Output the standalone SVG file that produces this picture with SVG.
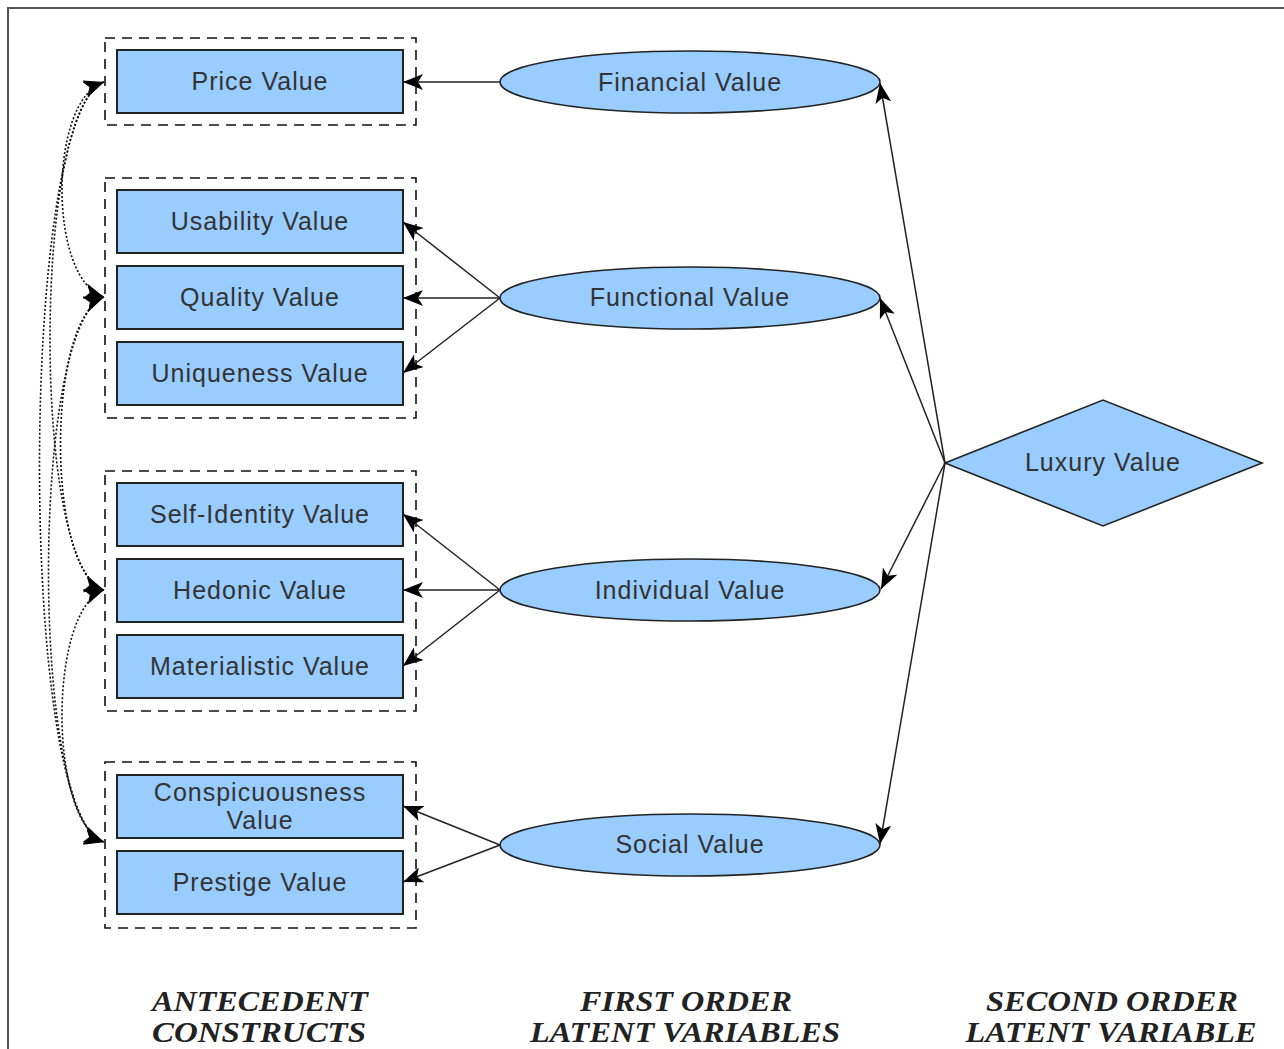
<svg xmlns="http://www.w3.org/2000/svg" width="1284" height="1049" viewBox="0 0 1284 1049">
  <style>
    .frame { fill: none; stroke: #555; stroke-width: 2; }
    .group { fill: none; stroke: #111; stroke-width: 1.6; stroke-dasharray: 10 7; }
    .box { fill: #99ccff; stroke: #222; stroke-width: 2; }
    .oval { fill: #99ccff; stroke: #222; stroke-width: 1.6; }
    .label { font-family: "Liberation Sans", Arial, sans-serif; font-size: 25px; letter-spacing: 1px; fill: #333; text-anchor: middle; }
    .head { font-family: "Liberation Serif", "Times New Roman", serif; font-size: 29px; font-weight: bold; font-style: italic; fill: #222; text-anchor: middle; }
    .link { fill: none; stroke: #222; stroke-width: 1.5; }
    .corr { fill: none; stroke: #111; stroke-width: 1.6; stroke-dasharray: 2 2; }
  </style>
  <defs>
    <marker id="arrow" viewBox="0 0 20 16" refX="20" refY="8" markerWidth="20" markerHeight="16" markerUnits="userSpaceOnUse" orient="auto">
      <path d="M0,0 L20,8 L0,16 L5,8 Z" fill="#000"/>
    </marker>
    <marker id="arrowStart" viewBox="0 0 20 16" refX="20" refY="8" markerWidth="20" markerHeight="16" markerUnits="userSpaceOnUse" orient="auto-start-reverse">
      <path d="M0,0 L20,8 L0,16 L5,8 Z" fill="#000"/>
    </marker>
  </defs>

  <rect width="1284" height="1049" fill="#fff"/>
  <path class="frame" d="M8,1049 L8,8 L1284,8"/>

  <!-- group outlines -->
  <g id="groups">
    <rect class="group" x="105" y="38" width="311" height="87"/>
    <rect class="group" x="105" y="178" width="311" height="240"/>
    <rect class="group" x="105" y="471" width="311" height="240"/>
    <rect class="group" x="105" y="762" width="311" height="166"/>
  </g>

  <!-- connectors -->
  <g id="connectors">
    <!-- second order to first order -->
    <line class="link" x1="945" y1="463" x2="880" y2="83" marker-end="url(#arrow)"/>
    <line class="link" x1="945" y1="463" x2="880" y2="298" marker-end="url(#arrow)"/>
    <line class="link" x1="945" y1="463" x2="881" y2="589" marker-end="url(#arrow)"/>
    <line class="link" x1="945" y1="463" x2="880" y2="844" marker-end="url(#arrow)"/>
    <!-- first order to antecedents -->
    <line class="link" x1="500" y1="82" x2="403" y2="82" marker-end="url(#arrow)"/>
    <line class="link" x1="500" y1="298" x2="403" y2="222" marker-end="url(#arrow)"/>
    <line class="link" x1="500" y1="298" x2="403" y2="298" marker-end="url(#arrow)"/>
    <line class="link" x1="500" y1="298" x2="403" y2="373" marker-end="url(#arrow)"/>
    <line class="link" x1="500" y1="590" x2="403" y2="514" marker-end="url(#arrow)"/>
    <line class="link" x1="500" y1="590" x2="403" y2="590" marker-end="url(#arrow)"/>
    <line class="link" x1="500" y1="590" x2="403" y2="666" marker-end="url(#arrow)"/>
    <line class="link" x1="500" y1="845" x2="403" y2="806" marker-end="url(#arrow)"/>
    <line class="link" x1="500" y1="845" x2="403" y2="882" marker-end="url(#arrow)"/>
    <!-- correlations between antecedent groups -->
    <path class="corr" d="M104,82 C48,100 48,280 104,297" marker-start="url(#arrowStart)" marker-end="url(#arrow)"/>
    <path class="corr" d="M104,82 C32,110 32,570 104,590" marker-start="url(#arrowStart)" marker-end="url(#arrow)"/>
    <path class="corr" d="M104,82 C18,115 18,820 104,842" marker-start="url(#arrowStart)" marker-end="url(#arrow)"/>
    <path class="corr" d="M104,297 C46,320 46,570 104,590" marker-start="url(#arrowStart)" marker-end="url(#arrow)"/>
    <path class="corr" d="M104,297 C30,325 30,820 104,842" marker-start="url(#arrowStart)" marker-end="url(#arrow)"/>
    <path class="corr" d="M104,590 C48,610 48,820 104,842" marker-start="url(#arrowStart)" marker-end="url(#arrow)"/>
  </g>

  <!-- antecedent constructs -->
  <g id="price"><rect class="box" x="117" y="50" width="286" height="63"/><text class="label" x="260" y="90">Price Value</text></g>
  <g id="usability"><rect class="box" x="117" y="190" width="286" height="63"/><text class="label" x="260" y="230">Usability Value</text></g>
  <g id="quality"><rect class="box" x="117" y="266" width="286" height="63"/><text class="label" x="260" y="306">Quality Value</text></g>
  <g id="uniqueness"><rect class="box" x="117" y="342" width="286" height="63"/><text class="label" x="260" y="382">Uniqueness Value</text></g>
  <g id="self-identity"><rect class="box" x="117" y="483" width="286" height="63"/><text class="label" x="260" y="523">Self-Identity Value</text></g>
  <g id="hedonic"><rect class="box" x="117" y="559" width="286" height="63"/><text class="label" x="260" y="599">Hedonic Value</text></g>
  <g id="materialistic"><rect class="box" x="117" y="635" width="286" height="63"/><text class="label" x="260" y="675">Materialistic Value</text></g>
  <g id="conspicuousness"><rect class="box" x="117" y="775" width="286" height="63"/><text class="label" x="260" y="801">Conspicuousness</text><text class="label" x="260" y="829">Value</text></g>
  <g id="prestige"><rect class="box" x="117" y="851" width="286" height="63"/><text class="label" x="260" y="891">Prestige Value</text></g>

  <!-- first order latent variables -->
  <g id="financial"><ellipse class="oval" cx="690" cy="82" rx="190" ry="31"/><text class="label" x="690" y="91">Financial Value</text></g>
  <g id="functional"><ellipse class="oval" cx="690" cy="298" rx="190" ry="31"/><text class="label" x="690" y="306">Functional Value</text></g>
  <g id="individual"><ellipse class="oval" cx="690" cy="590" rx="190" ry="31"/><text class="label" x="690" y="599">Individual Value</text></g>
  <g id="social"><ellipse class="oval" cx="690" cy="845" rx="190" ry="31"/><text class="label" x="690" y="853">Social Value</text></g>

  <!-- second order latent variable -->
  <g id="luxury"><polygon class="oval" points="945,463 1103,400 1262,463 1103,526"/><text class="label" x="1103" y="471">Luxury Value</text></g>

  <!-- column headings -->
  <g id="headings">
    <text class="head" x="260" y="1011" textLength="216" lengthAdjust="spacingAndGlyphs">ANTECEDENT</text>
    <text class="head" x="259" y="1042" textLength="214" lengthAdjust="spacingAndGlyphs">CONSTRUCTS</text>
    <text class="head" x="686" y="1011" textLength="212" lengthAdjust="spacingAndGlyphs">FIRST ORDER</text>
    <text class="head" x="685" y="1042" textLength="310" lengthAdjust="spacingAndGlyphs">LATENT VARIABLES</text>
    <text class="head" x="1112" y="1011" textLength="252" lengthAdjust="spacingAndGlyphs">SECOND ORDER</text>
    <text class="head" x="1111" y="1042" textLength="291" lengthAdjust="spacingAndGlyphs">LATENT VARIABLE</text>
  </g>
</svg>
